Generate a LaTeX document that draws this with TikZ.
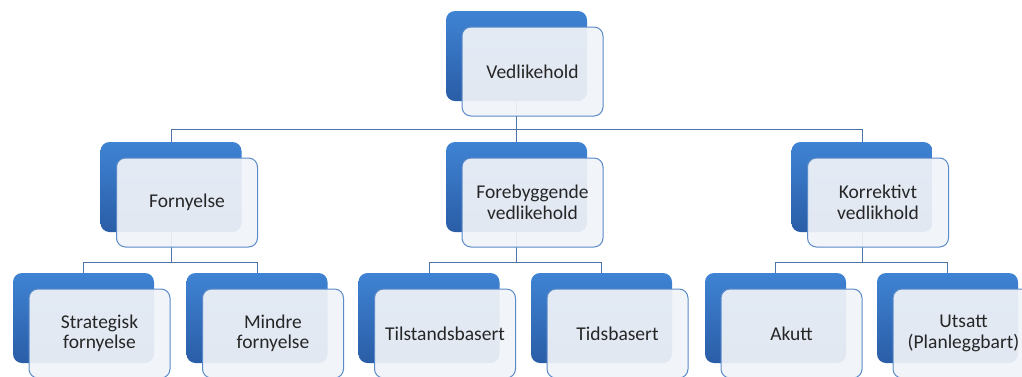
\documentclass[tikz,border=0pt]{standalone}
\usepackage{fontspec}
\setmainfont{Carlito}
\usetikzlibrary{positioning}

\definecolor{boxtop}{HTML}{3F83D4}
\definecolor{boxbot}{HTML}{2A5DA6}
\definecolor{paleblue}{HTML}{F0F3F8}
\definecolor{frameblue}{HTML}{5A8AC8}
\definecolor{linkblue}{HTML}{4E74A6}
\definecolor{txtgray}{HTML}{262626}

\tikzset{
  backbox/.style={rectangle, rounded corners=9pt, minimum width=141pt, minimum height=90pt,
    inner sep=0pt, top color=boxtop, bottom color=boxbot},
  frontbox/.style={rectangle, rounded corners=9pt, minimum width=141pt, minimum height=89pt,
    inner sep=0pt, draw=frameblue, line width=1pt, fill=paleblue, fill opacity=0.93, text opacity=1,
    align=center, text=txtgray, font=\fontsize{19.5}{20.5}\selectfont},
  link/.style={draw=linkblue, line width=0.9pt}
}

\begin{document}
\begin{tikzpicture}[x=1pt, y=-1pt]
    \useasboundingbox (0,0) rectangle (1022,376);

    % back boxes
    \node[backbox] (vedB) at (516.5,56) {};
    \node[backbox] (fornB) at (171,187) {};
    \node[backbox] (foreB) at (516.5,187) {};
    \node[backbox] (korrB) at (862,187) {};
    \node[backbox] (stratB) at (83.5,318) {};
    \node[backbox] (mindB) at (257,318) {};
    \node[backbox] (tilsB) at (429,318) {};
    \node[backbox] (tidsB) at (601.5,318) {};
    \node[backbox] (akuB) at (775.5,318) {};
    \node[backbox] (utsB) at (947.5,318) {};

    % connectors
    \coordinate (bus0) at (516.5,129);
    \draw[link] (vedB.south) -- (bus0) -| (fornB.north);
    \draw[link] (bus0) -| (korrB.north);
    \draw[link] (bus0) -- (foreB.north);
    \foreach \p/\a/\b in {fornB/stratB/mindB, foreB/tilsB/tidsB, korrB/akuB/utsB} {
      \coordinate (bus-\p) at ([yshift=-30pt]\p.south);
      \draw[link] (\p.south) -- (bus-\p) -| (\a.north);
      \draw[link] (bus-\p) -| (\b.north);
    }

    % front boxes with text
    \node[frontbox] (ved) at ([shift={(16pt,-15.5pt)}]vedB.center) {Vedlikehold};
    \node[frontbox] (forn) at ([shift={(16pt,-15.5pt)}]fornB.center) {Fornyelse};
    \node[frontbox] (fore) at ([shift={(16pt,-15.5pt)}]foreB.center) {Forebyggende\\vedlikehold};
    \node[frontbox] (korr) at ([shift={(16pt,-15.5pt)}]korrB.center) {Korrektivt\\vedlikhold};
    \node[frontbox] (strat) at ([shift={(16pt,-15.5pt)}]stratB.center) {Strategisk\\fornyelse};
    \node[frontbox] (mind) at ([shift={(16pt,-15.5pt)}]mindB.center) {Mindre\\fornyelse};
    \node[frontbox] (tils) at ([shift={(16pt,-15.5pt)}]tilsB.center) {Tilstandsbasert};
    \node[frontbox] (tids) at ([shift={(16pt,-15.5pt)}]tidsB.center) {Tidsbasert};
    \node[frontbox] (aku) at ([shift={(16pt,-15.5pt)}]akuB.center) {Akutt};
    \node[frontbox] (uts) at ([shift={(16pt,-15.5pt)}]utsB.center) {Utsatt\\(Planleggbart)};
\end{tikzpicture}
\end{document}
